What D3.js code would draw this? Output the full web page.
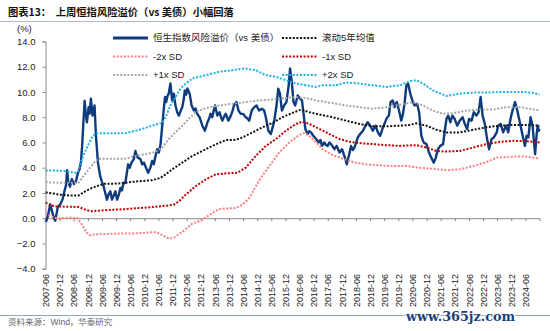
<!DOCTYPE html>
<html><head><meta charset="utf-8">
<script src="https://cdn.jsdelivr.net/npm/d3@7"></script>
<style>body{margin:0;background:#fff}svg{display:block}</style>
</head><body><svg id="c" width="550" height="331"></svg>
<script>
const titleText = "图表13：  上周恒指风险溢价（vs 美债）小幅回落";
const sourceText = "资料来源：Wind，华泰研究";
const watermarkText = "www.365jz.com";
const unitText = "(%)";
const yTicks = [-4, -2, 0, 2, 4, 6, 8, 10, 12, 14];
const xTickLabels = ["2007-06","2007-12","2008-06","2008-12","2009-06","2009-12","2010-06","2010-12","2011-06","2011-12","2012-06","2012-12","2013-06","2013-12","2014-06","2014-12","2015-06","2015-12","2016-06","2016-12","2017-06","2017-12","2018-06","2018-12","2019-06","2019-12","2020-06","2020-12","2021-06","2021-12","2022-06","2022-12","2023-06","2023-12","2024-06"];
const xAxisEnd = "2024-12";
const seriesNames = ["恒生指数风险溢价（vs 美债）","滚动5年均值","-2x SD","-1x SD","+1x SD","+2x SD"];

const riskPremium = [[2007.43,-0.3],[2007.50,0.2],[2007.58,1.1],[2007.64,0.6],[2007.70,0.1],[2007.76,-0.2],[2007.85,0.9],[2007.94,1.1],[2008.02,1.5],[2008.08,2.1],[2008.14,2.6],[2008.18,3.8],[2008.22,2.9],[2008.28,2.5],[2008.35,3.1],[2008.42,2.7],[2008.49,2.9],[2008.55,3.5],[2008.62,3.9],[2008.67,4.5],[2008.71,5.7],[2008.76,7.8],[2008.80,9.3],[2008.84,8.2],[2008.88,7.6],[2008.94,8.8],[2008.98,8.3],[2009.02,9.47],[2009.08,8.13],[2009.12,8.6],[2009.15,8.93],[2009.20,6.53],[2009.27,4.4],[2009.35,3.33],[2009.41,2.9],[2009.47,2.53],[2009.53,2.0],[2009.59,1.47],[2009.65,1.9],[2009.71,2.13],[2009.77,1.47],[2009.83,1.8],[2009.89,2.13],[2009.95,1.47],[2010.01,1.87],[2010.07,2.4],[2010.12,2.2],[2010.18,2.8],[2010.24,2.8],[2010.29,3.5],[2010.34,4.27],[2010.40,4.0],[2010.46,4.4],[2010.54,4.67],[2010.60,5.33],[2010.65,4.9],[2010.69,4.8],[2010.78,4.67],[2010.84,4.27],[2010.90,4.4],[2010.95,4.13],[2011.05,3.6],[2011.13,4.0],[2011.19,4.53],[2011.25,4.27],[2011.31,4.9],[2011.37,5.47],[2011.43,5.2],[2011.49,5.87],[2011.55,7.33],[2011.61,8.8],[2011.65,9.6],[2011.69,9.2],[2011.74,9.7],[2011.78,9.87],[2011.84,10.67],[2011.90,9.33],[2011.96,9.87],[2012.02,8.93],[2012.08,8.4],[2012.14,8.13],[2012.20,8.5],[2012.26,8.8],[2012.31,9.4],[2012.35,10.13],[2012.40,9.8],[2012.44,10.27],[2012.52,9.87],[2012.59,8.93],[2012.67,8.53],[2012.73,8.7],[2012.79,8.27],[2012.87,8.0],[2012.97,7.33],[2013.06,6.93],[2013.15,7.6],[2013.21,7.9],[2013.26,8.27],[2013.32,8.0],[2013.37,8.5],[2013.42,8.93],[2013.50,8.13],[2013.58,8.4],[2013.63,8.0],[2013.68,7.73],[2013.75,8.1],[2013.80,8.27],[2013.89,7.73],[2013.98,8.13],[2014.04,8.5],[2014.09,8.93],[2014.18,9.2],[2014.25,8.53],[2014.33,8.27],[2014.41,8.27],[2014.51,8.0],[2014.57,7.9],[2014.63,7.73],[2014.72,8.53],[2014.81,8.8],[2014.89,8.93],[2014.98,8.53],[2015.08,8.67],[2015.16,8.53],[2015.22,8.0],[2015.31,6.93],[2015.40,6.67],[2015.46,7.2],[2015.52,7.73],[2015.60,8.93],[2015.66,10.27],[2015.72,9.87],[2015.79,8.53],[2015.87,8.93],[2015.95,9.2],[2016.03,10.53],[2016.08,11.87],[2016.14,10.8],[2016.20,9.2],[2016.26,8.93],[2016.35,9.73],[2016.43,9.47],[2016.50,9.33],[2016.55,8.4],[2016.62,7.07],[2016.70,6.67],[2016.76,6.9],[2016.82,6.8],[2016.90,6.53],[2017.00,6.27],[2017.09,6.0],[2017.15,6.2],[2017.21,5.73],[2017.29,6.0],[2017.35,5.8],[2017.41,5.73],[2017.47,6.0],[2017.53,5.87],[2017.65,5.47],[2017.73,5.73],[2017.83,5.2],[2017.92,5.47],[2018.00,4.93],[2018.05,4.6],[2018.09,4.27],[2018.16,4.93],[2018.24,5.73],[2018.30,5.4],[2018.36,5.6],[2018.48,6.4],[2018.56,6.67],[2018.66,6.93],[2018.75,7.33],[2018.83,7.6],[2018.92,7.33],[2019.01,6.93],[2019.11,7.33],[2019.19,6.8],[2019.27,6.53],[2019.37,7.2],[2019.43,7.5],[2019.49,7.87],[2019.58,8.13],[2019.64,9.2],[2019.72,9.33],[2019.78,8.8],[2019.86,9.2],[2019.94,8.53],[2020.02,7.73],[2020.08,8.27],[2020.14,9.2],[2020.20,10.53],[2020.26,10.67],[2020.34,9.87],[2020.41,9.33],[2020.49,8.93],[2020.58,9.07],[2020.65,8.4],[2020.73,6.53],[2020.81,6.0],[2020.91,5.87],[2021.00,5.2],[2021.08,4.8],[2021.17,4.4],[2021.24,4.8],[2021.32,5.47],[2021.40,5.73],[2021.50,5.87],[2021.56,6.93],[2021.62,7.87],[2021.68,8.13],[2021.76,7.6],[2021.83,8.13],[2021.91,7.87],[2022.00,7.33],[2022.09,7.73],[2022.19,8.0],[2022.27,7.47],[2022.35,7.07],[2022.42,7.87],[2022.51,7.73],[2022.59,8.4],[2022.68,8.13],[2022.76,8.4],[2022.83,9.6],[2022.90,8.13],[2022.98,7.47],[2023.06,6.27],[2023.13,5.47],[2023.22,6.27],[2023.30,6.4],[2023.40,6.8],[2023.45,7.33],[2023.54,7.47],[2023.63,6.8],[2023.73,7.33],[2023.81,6.8],[2023.89,7.87],[2023.96,8.53],[2024.05,9.2],[2024.13,8.53],[2024.22,7.6],[2024.32,6.53],[2024.40,5.73],[2024.46,6.53],[2024.52,6.4],[2024.60,8.0],[2024.67,7.33],[2024.76,5.07],[2024.81,6.53],[2024.85,7.33],[2024.89,6.93],[2024.92,7.07]];

const rollingMean = [[2007.42,2.05],[2007.9,1.87],[2008.35,1.79],[2008.58,1.79],[2008.82,2.13],[2009.06,2.4],[2009.30,2.59],[2009.47,2.72],[2010.01,2.75],[2010.36,2.85],[2010.72,2.93],[2011.19,3.01],[2011.49,3.2],[2011.67,3.47],[2011.90,3.87],[2012.26,4.4],[2012.61,4.93],[2012.97,5.33],[2013.32,5.73],[2013.80,6.19],[2014.15,6.21],[2014.39,6.4],[2014.75,6.8],[2015.10,7.2],[2015.46,7.55],[2015.81,8.0],[2016.17,8.35],[2016.46,8.61],[2016.76,8.4],[2017.12,8.21],[2017.59,8.0],[2018.06,7.73],[2018.54,7.47],[2019.01,7.28],[2019.49,7.28],[2019.96,7.33],[2020.31,7.39],[2020.55,7.52],[2020.91,7.33],[2021.26,7.01],[2021.62,6.8],[2022.09,6.8],[2022.57,7.01],[2023.04,7.2],[2023.51,7.33],[2023.99,7.39],[2024.46,7.39],[2024.92,7.33]];

const minus2SD = [[2007.42,0.45],[2007.6,0.15],[2007.8,0.0],[2008.0,0.0],[2008.3,0.05],[2008.55,0.0],[2008.7,-0.5],[2008.85,-1.1],[2008.97,-1.35],[2009.1,-1.3],[2009.4,-1.25],[2010.0,-1.22],[2010.6,-1.2],[2011.1,-1.12],[2011.35,-1.12],[2011.55,-1.35],[2011.8,-1.62],[2012.0,-1.5],[2012.3,-1.0],[2012.6,-0.45],[2012.95,-0.15],[2013.32,0.4],[2013.56,0.72],[2013.80,0.77],[2014.15,0.8],[2014.39,1.07],[2014.63,1.6],[2014.86,2.5],[2015.07,3.3],[2015.37,4.2],[2015.69,5.2],[2016.05,6.0],[2016.40,6.59],[2016.58,6.75],[2016.76,6.53],[2017.0,6.0],[2017.23,5.47],[2017.59,4.99],[2017.94,4.72],[2018.30,4.45],[2018.77,4.27],[2019.25,4.19],[2019.72,4.13],[2020.20,4.13],[2020.67,4.0],[2021.14,3.92],[2021.62,3.81],[2022.09,3.87],[2022.57,4.13],[2023.04,4.45],[2023.40,4.8],[2023.99,4.88],[2024.46,4.88],[2024.92,4.72]];

const minus1SD = [[2007.42,1.25],[2007.6,1.0],[2007.8,0.93],[2008.4,0.9],[2008.6,0.88],[2008.85,0.65],[2009.05,0.55],[2009.3,0.6],[2009.77,0.67],[2010.24,0.72],[2010.72,0.8],[2011.19,0.88],[2011.67,0.99],[2011.96,1.07],[2012.14,1.33],[2012.38,1.87],[2012.73,2.53],[2013.09,3.07],[2013.44,3.47],[2013.80,3.55],[2014.21,3.6],[2014.51,4.0],[2014.86,4.93],[2015.22,5.73],[2015.58,6.27],[2015.93,6.93],[2016.29,7.47],[2016.52,7.65],[2016.76,7.47],[2017.12,7.07],[2017.47,6.67],[2017.83,6.27],[2018.18,6.05],[2018.54,5.95],[2019.01,5.87],[2019.49,5.79],[2019.96,5.73],[2020.55,5.79],[2020.91,5.6],[2021.26,5.33],[2021.62,5.28],[2022.09,5.33],[2022.57,5.6],[2023.04,5.87],[2023.51,6.05],[2023.99,6.13],[2024.46,6.1],[2024.92,6.0]];

const plus1SD = [[2007.42,2.85],[2008.11,2.8],[2008.58,2.8],[2008.76,3.33],[2008.94,3.87],[2009.18,4.53],[2009.30,4.72],[2009.77,4.72],[2010.24,4.72],[2010.60,4.93],[2010.95,5.07],[2011.31,5.25],[2011.55,5.6],[2011.78,6.27],[2012.02,6.8],[2012.26,7.33],[2012.49,7.87],[2012.73,8.4],[2013.09,8.72],[2013.56,8.93],[2014.04,9.07],[2014.51,9.2],[2014.98,9.33],[2015.46,9.41],[2015.93,9.52],[2016.29,9.6],[2016.64,9.52],[2017.00,9.33],[2017.35,9.2],[2017.71,9.07],[2018.06,8.93],[2018.54,8.8],[2019.01,8.67],[2019.49,8.8],[2019.96,8.99],[2020.43,9.2],[2020.79,8.93],[2021.14,8.53],[2021.50,8.27],[2021.86,8.32],[2022.33,8.53],[2022.80,8.61],[2023.28,8.61],[2023.75,8.8],[2024.22,8.8],[2024.58,8.67],[2024.92,8.53]];

const plus2SD = [[2007.42,3.78],[2007.76,3.78],[2008.11,3.73],[2008.47,3.6],[2008.58,3.73],[2008.70,4.67],[2008.88,5.6],[2009.06,6.4],[2009.18,6.7],[2009.30,6.74],[2009.77,6.74],[2010.24,6.74],[2010.48,6.87],[2010.84,7.07],[2011.19,7.33],[2011.55,7.55],[2011.67,8.0],[2011.84,8.93],[2012.02,9.6],[2012.20,10.27],[2012.38,10.67],[2012.61,11.07],[2013.09,11.33],[2013.56,11.6],[2014.04,11.73],[2014.45,11.87],[2014.86,11.73],[2015.22,11.33],[2015.58,11.2],[2015.93,10.93],[2016.29,10.67],[2016.64,10.53],[2017.00,10.4],[2017.23,10.53],[2017.71,10.53],[2018.06,10.75],[2018.54,10.67],[2019.01,10.53],[2019.49,10.4],[2019.96,10.53],[2020.31,10.85],[2020.55,10.93],[2020.79,10.67],[2021.14,10.13],[2021.62,9.68],[2022.09,9.87],[2022.57,9.95],[2023.04,9.95],[2023.51,10.0],[2023.99,10.0],[2024.34,10.0],[2024.70,9.93],[2024.92,9.79]];

const svg = d3.select("#c");
const W = 550, H = 331;
const fontLatin = "'Liberation Sans', Arial, 'Noto Sans CJK SC', sans-serif";
const fontCJK = "'Liberation Sans', 'Noto Sans CJK SC', sans-serif";

const parseMonth = d3.timeParse("%Y-%m");
function fromDecimal(t) {
  const y = Math.floor(t);
  const a = new Date(y, 0, 1), b = new Date(y + 1, 0, 1);
  return new Date(+a + (t - y) * (b - a));
}

const x = d3.scaleTime()
  .domain([parseMonth(xTickLabels[0]), parseMonth(xAxisEnd)])
  .range([45.5, 539.5]);
const y = d3.scaleLinear().domain([-4, 14]).range([268.7, 41.5]);

// header / footer
svg.append("text").attr("x", 8).attr("y", 16)
  .attr("font-family", "'Noto Sans CJK SC', sans-serif").attr("font-weight", "bold")
  .attr("font-size", 10.3).attr("fill", "#111").style("white-space", "pre").text(titleText);
svg.append("line").attr("x1", 0).attr("x2", W).attr("y1", 21.5).attr("y2", 21.5)
  .attr("stroke", "#a9bcd3").attr("stroke-width", 1);
svg.append("line").attr("x1", 0).attr("x2", W).attr("y1", 315.5).attr("y2", 315.5)
  .attr("stroke", "#8ea7c6").attr("stroke-width", 1);
svg.append("text").attr("x", 8).attr("y", 325)
  .attr("font-family", fontCJK).attr("font-size", 8.5).attr("fill", "#666").text(sourceText);
svg.append("text").attr("x", 406).attr("y", 321)
  .attr("font-family", "'DejaVu Serif', serif").attr("font-weight", "bold")
  .attr("font-size", 13).attr("fill", "#1d3f78")
  .attr("textLength", 109).attr("lengthAdjust", "spacingAndGlyphs")
  .attr("stroke", "#fff").attr("stroke-width", 2).attr("paint-order", "stroke")
  .text(watermarkText);

svg.append("text").attr("x", 17).attr("y", 31.5)
  .attr("font-family", fontLatin).attr("font-size", 9.5).attr("fill", "#222").text(unitText);

// y axis
const yAxis = svg.append("g").attr("transform", "translate(45.5,0)")
  .call(d3.axisLeft(y).tickValues(yTicks).tickFormat(d3.format(".1f")).tickSize(3).tickPadding(7));
yAxis.select(".domain").attr("stroke", "#888");
yAxis.selectAll(".tick line").attr("stroke", "#888");
yAxis.selectAll("text").attr("font-family", fontLatin).attr("font-size", 9.5).attr("fill", "#222");

// x axis at zero
const tickDates = xTickLabels.map(parseMonth).concat([parseMonth(xAxisEnd)]);
const lastLabel = parseMonth(xTickLabels[xTickLabels.length - 1]);
const xAxis = svg.append("g").attr("transform", `translate(0,${y(0)})`)
  .call(d3.axisBottom(x).tickValues(tickDates)
    .tickFormat(d => d > lastLabel ? "" : d3.timeFormat("%Y-%m")(d)).tickSize(3).tickSizeOuter(0));
xAxis.select(".domain").attr("stroke", "#888");
xAxis.selectAll(".tick line").attr("stroke", "#888");
const labelTop = 274 - y(0);
xAxis.selectAll("text")
  .attr("font-family", fontLatin).attr("font-size", 9).attr("fill", "#222")
  .attr("transform", "rotate(-90)").attr("x", -labelTop).attr("y", 0).attr("dy", "0.35em")
  .style("text-anchor", "end");

// lines
const line = d3.line().x(d => x(fromDecimal(d[0]))).y(d => y(d[1]));
const dotted = { width: 2, dash: "2,1.6" };
const styles = [
  { data: riskPremium, color: "#0e3a7e", width: 2.4, dash: null },
  { data: rollingMean, color: "#111111", width: dotted.width, dash: dotted.dash },
  { data: minus2SD, color: "#ff7f7f", width: dotted.width, dash: dotted.dash },
  { data: minus1SD, color: "#c00000", width: dotted.width, dash: dotted.dash },
  { data: plus1SD, color: "#a6a6a6", width: dotted.width, dash: dotted.dash },
  { data: plus2SD, color: "#1ab0ee", width: dotted.width, dash: dotted.dash }
];
styles.forEach(s => {
  svg.append("path").datum(s.data).attr("d", line)
    .attr("fill", "none").attr("stroke", s.color).attr("stroke-width", s.width)
    .attr("stroke-dasharray", s.dash).attr("stroke-linejoin", "round");
});

// legend
const legX = [113, 282], legY = [38, 56.5, 75];
seriesNames.forEach((name, i) => {
  const s = styles[i];
  const lx = legX[i % 2], ly = legY[Math.floor(i / 2)];
  svg.append("line").attr("x1", lx).attr("x2", lx + 35).attr("y1", ly).attr("y2", ly)
    .attr("stroke", s.color).attr("stroke-width", i === 0 ? 2.8 : 2)
    .attr("stroke-dasharray", s.dash);
  svg.append("text").attr("x", lx + 40).attr("y", ly).attr("dy", "0.35em")
    .attr("font-family", fontCJK).attr("font-size", 9.5).attr("fill", "#222").text(name);
});
</script></body></html>
